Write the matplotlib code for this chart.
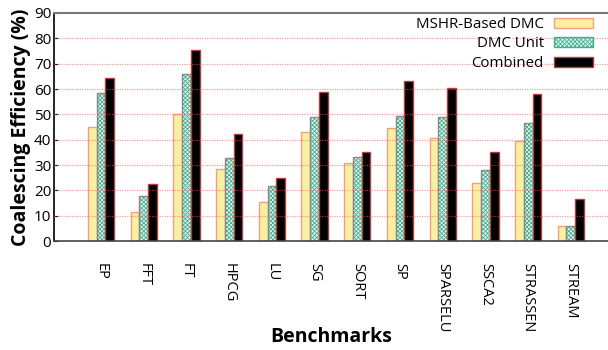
import numpy as np
import matplotlib.pyplot as plt
from matplotlib.patches import Patch

benchmarks = ['EP', 'FFT', 'FT', 'HPCG', 'LU', 'SG', 'SORT', 'SP',
              'SPARSELU', 'SSCA2', 'STRASSEN', 'STREAM']
mshr_dmc = [45.1, 11.3, 50.1, 28.4, 15.5, 43.0, 31.0, 44.5, 40.5, 23.0, 39.5, 5.8]
dmc_unit = [58.3, 17.8, 65.8, 32.8, 21.7, 48.8, 33.3, 49.4, 49.0, 28.2, 46.6, 6.0]
combined = [64.5, 22.4, 75.5, 42.4, 25.0, 59.0, 35.2, 63.2, 60.3, 35.0, 58.0, 16.7]

plt.rcParams['font.family'] = ['Open Sans', 'DejaVu Sans']
plt.rcParams['hatch.linewidth'] = 0.6

fig = plt.figure(figsize=(6.08, 3.5), dpi=100)
ax = fig.add_axes([0.089, 0.311, 0.911, 0.652])

x = np.arange(len(benchmarks))
w = 0.205

# yellow bars
ax.bar(x - w, mshr_dmc, w, color='#f8f0a0', edgecolor='#f4a080', linewidth=1.0, zorder=2)
# checkered bars: hatch layer, then outline
ax.bar(x, dmc_unit, w, color='#e6f5ee', edgecolor='#40b090', hatch='xxxxxxxx', linewidth=0, zorder=2)
ax.bar(x, dmc_unit, w, color='none', edgecolor='#888888', linewidth=1.0, zorder=2)
# black bars
ax.bar(x + w, combined, w, color='black', edgecolor='#b04040', linewidth=1.0, zorder=2)

ax.set_ylim(0, 90)
ax.set_xlim(-1.1, 11.87)
ax.set_yticks(range(0, 91, 10))
ax.set_xticks(x)
ax.set_xticklabels(benchmarks, rotation=-90, fontsize=10.5)
ax.tick_params(axis='x', length=0, pad=16)
ax.tick_params(axis='y', labelsize=11, length=3, direction='in', pad=2)

for v in range(10, 90, 10):
    ax.axhline(v, color='#f06060', linestyle=(0, (1, 1)), linewidth=0.9, alpha=0.6, zorder=3)

ax.spines['right'].set_visible(False)
ax.spines['top'].set_color('#777777')
ax.spines['top'].set_linewidth(1.5)
ax.spines['left'].set_linewidth(1.2)
ax.spines['bottom'].set_linewidth(1.2)
ax.spines['bottom'].set_color('#444444')

ax.set_ylabel('Coalescing Efficiency (%)', fontsize=14, fontweight='bold', labelpad=2)
ax.set_xlabel('Benchmarks', fontsize=14, fontweight='bold', va='center')
ax.xaxis.set_label_coords(0.5, -0.42)

handles = [
    Patch(facecolor='#f8f0a0', edgecolor='#f4a080', label='MSHR-Based DMC'),
    Patch(facecolor='#e6f5ee', edgecolor='#40b090', hatch='xxxxxxxx', label='DMC Unit'),
    Patch(facecolor='black', edgecolor='#b04040', label='Combined'),
]
ax.legend(handles=handles, loc='upper right', bbox_to_anchor=(0.995, 1.035),
          frameon=False, markerfirst=False, fontsize=10.8,
          handlelength=2.6, handleheight=0.65, labelspacing=0.3,
          handletextpad=0.7, borderpad=0.3)

fig.savefig('out.png', dpi=100)
